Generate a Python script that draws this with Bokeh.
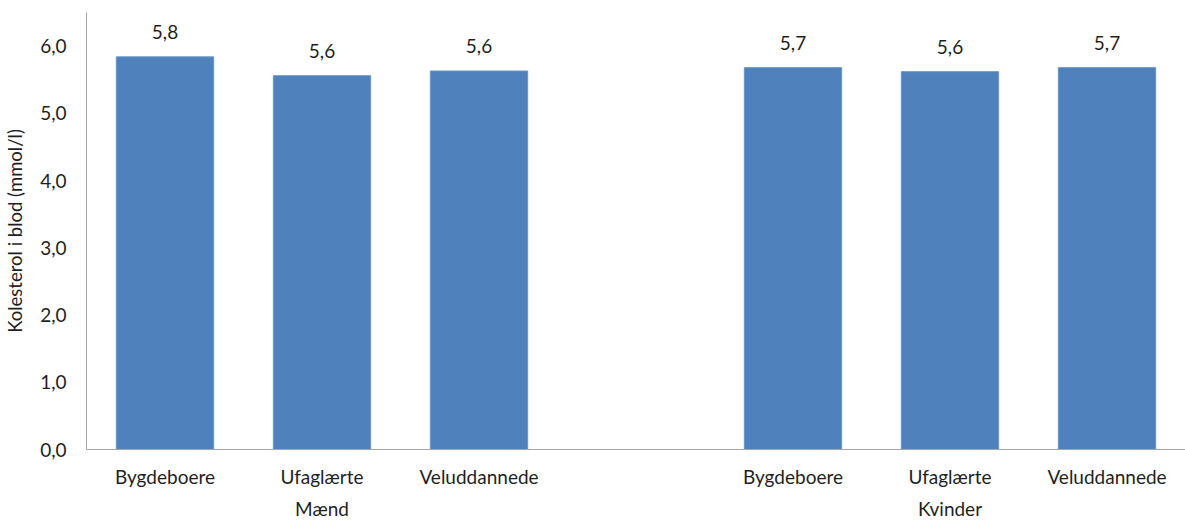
from bokeh.plotting import figure
from bokeh.models import Range1d, FixedTicker, CustomJSTickFormatter, ColumnDataSource, LinearAxis
from bokeh.embed import file_html
from bokeh.resources import INLINE
from bokeh.core.properties import value

groups = ["Mænd", "Mænd", "Mænd", "Kvinder", "Kvinder", "Kvinder"]
subgroups = ["Bygdeboere", "Ufaglærte", "Veluddannede", "Bygdeboere", "Ufaglærte", "Veluddannede"]
values = [5.84, 5.56, 5.63, 5.68, 5.62, 5.68]
yticks = [0, 1, 2, 3, 4, 5, 6]
ylabel = "Kolesterol i blod (mmol/l)"

# category slots: one empty slot between the two groups
group_names = list(dict.fromkeys(groups))
xs = [i + group_names.index(g) for i, g in enumerate(groups)]
group_centers = [sum(x for x, g in zip(xs, groups) if g == name) / groups.count(name) for name in group_names]

labels = [f"{v:.1f}".replace(".", ",") for v in values]
src = ColumnDataSource(dict(x=xs, top=values, label=labels))

FONT = "Lato"
TXT = "#1f1f1f"
AX = "#a6a6a6"
FS = "19px"

p = figure(x_range=Range1d(min(xs) - 0.5, max(xs) + 0.5), y_range=Range1d(0, 6.5),
           width=1185, height=522, output_backend="svg", toolbar_location=None,
           min_border_left=86, min_border_right=0, min_border_top=12, min_border_bottom=70)

p.vbar(x="x", top="top", width=0.62, source=src, fill_color="#4f81bd", line_color="#6a95c8", line_width=1)
p.text(x="x", y="top", text="label", source=src, text_align="center", text_baseline="alphabetic",
       y_offset=-25, text_font=value(FONT), text_font_size=FS, text_color=TXT)

p.outline_line_color = None
p.xgrid.grid_line_color = None
p.ygrid.grid_line_color = None

ya = p.yaxis[0]
ya.ticker = FixedTicker(ticks=yticks)
ya.formatter = CustomJSTickFormatter(code="return tick.toFixed(1).replace('.', ',');")
ya.axis_line_color = AX
ya.major_tick_line_color = None
ya.minor_tick_line_color = None
ya.major_tick_out = 0
ya.major_label_standoff = 20
ya.major_label_text_font = FONT
ya.major_label_text_font_size = FS
ya.major_label_text_color = TXT
ya.axis_label = ylabel
ya.axis_label_text_font = FONT
ya.axis_label_text_font_size = "18.5px"
ya.axis_label_text_font_style = "normal"
ya.axis_label_text_color = TXT
ya.axis_label_standoff = 11

xa = p.xaxis[0]
xa.ticker = FixedTicker(ticks=xs)
xa.major_label_overrides = {x: s for x, s in zip(xs, subgroups)}
xa.axis_line_color = AX
xa.major_tick_line_color = None
xa.minor_tick_line_color = None
xa.major_tick_out = 0
xa.major_label_standoff = 15
xa.major_label_text_font = FONT
xa.major_label_text_font_size = FS
xa.major_label_text_color = TXT

ga = LinearAxis(ticker=FixedTicker(ticks=group_centers),
                major_label_overrides={c: n for c, n in zip(group_centers, group_names)})
ga.axis_line_color = None
ga.major_tick_line_color = None
ga.minor_tick_line_color = None
ga.major_tick_out = 0
ga.major_label_standoff = 6
ga.major_label_text_font = FONT
ga.major_label_text_font_size = FS
ga.major_label_text_color = TXT
p.add_layout(ga, "below")

open("out.html", "w").write(file_html(p, INLINE))
